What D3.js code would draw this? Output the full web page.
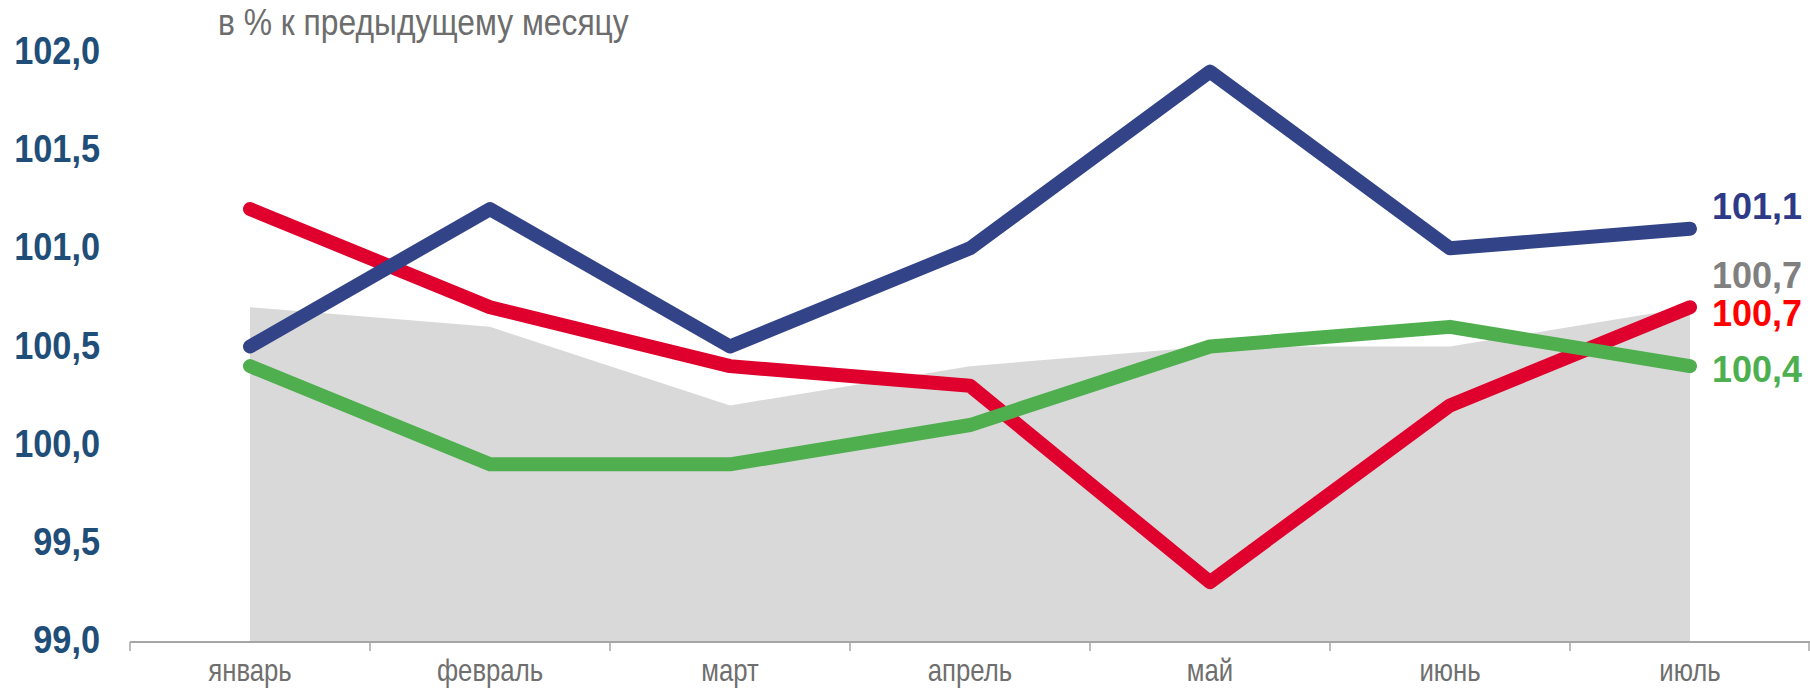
<!DOCTYPE html>
<html>
<head>
<meta charset="utf-8">
<script src="https://cdn.jsdelivr.net/npm/d3@7"></script>
<style>
  html, body { margin: 0; padding: 0; background: #ffffff; }
  svg { display: block; font-family: "Liberation Sans", Arial, sans-serif; }
</style>
</head>
<body>
<svg id="chart" width="1810" height="688"></svg>
<script>
// ---- data ----
const months = ["январь", "февраль", "март", "апрель", "май", "июнь", "июль"];
const areaValues  = [100.7, 100.6, 100.2, 100.4, 100.5, 100.5, 100.7];
const blueValues  = [100.5, 101.2, 100.5, 101.0, 101.9, 101.0, 101.1];
const redValues   = [101.2, 100.7, 100.4, 100.3, 99.3, 100.2, 100.7];
const greenValues = [100.4, 99.9, 99.9, 100.1, 100.5, 100.6, 100.4];
const yTicks = [99.0, 99.5, 100.0, 100.5, 101.0, 101.5, 102.0];
const title = "в % к предыдущему месяцу";

// ---- layout ----
const svg = d3.select("#chart");
const x = d3.scaleBand().domain(months).range([130, 1810]).padding(0);
const cx = m => x(m) + x.bandwidth() / 2;
const y = d3.scaleLinear().domain([99, 102]).range([641, 52]);
const fmt = v => d3.format(".1f")(v).replace(".", ",");

// gray area
const area = d3.area()
  .x((d, i) => cx(months[i]))
  .y0(y(99))
  .y1(d => y(d));
svg.append("path").datum(areaValues)
  .attr("d", area)
  .attr("fill", "#d9d9d9");

// x axis line and boundary ticks
const axisG = svg.append("g");
axisG.append("line")
  .attr("x1", x.range()[0]).attr("x2", x.range()[1])
  .attr("y1", y(99) + 1).attr("y2", y(99) + 1)
  .attr("stroke", "#a6a6a6").attr("stroke-width", 2);
const bounds = months.map(m => x(m)).concat([x.range()[1] - 1]);
axisG.selectAll("line.tick").data(bounds).enter().append("line")
  .attr("class", "tick")
  .attr("x1", d => d).attr("x2", d => d)
  .attr("y1", y(99) + 1).attr("y2", y(99) + 10)
  .attr("stroke", "#a6a6a6").attr("stroke-width", 1.5);

// x labels (condensed)
axisG.selectAll("text.xl").data(months).enter().append("text")
  .attr("class", "xl")
  .attr("transform", d => `translate(${cx(d)},681) scale(0.83,1)`)
  .attr("text-anchor", "middle")
  .attr("font-size", 31)
  .attr("fill", "#6f6f6f")
  .text(d => d);

// y labels
svg.selectAll("text.yl").data(yTicks).enter().append("text")
  .attr("class", "yl")
  .attr("transform", d => `translate(100,${y(d) + 12}) scale(0.88,1)`)
  .attr("text-anchor", "end")
  .attr("font-size", 39)
  .attr("font-weight", "bold")
  .attr("fill", "#1f4e79")
  .text(d => fmt(d));

// title
svg.append("text")
  .attr("transform", "translate(218,35) scale(0.86,1)")
  .attr("font-size", 37)
  .attr("fill", "#6d6d6d")
  .text(title);

// lines
const line = d3.line()
  .x((d, i) => cx(months[i]))
  .y(d => y(d));
const series = [
  { values: redValues,   color: "#e0002d" },
  { values: greenValues, color: "#4faf4f" },
  { values: blueValues,  color: "#334388" }
];
svg.selectAll("path.series").data(series).enter().append("path")
  .attr("class", "series")
  .attr("d", d => line(d.values))
  .attr("fill", "none")
  .attr("stroke", d => d.color)
  .attr("stroke-width", 14)
  .attr("stroke-linejoin", "round")
  .attr("stroke-linecap", "round");

// end labels
const last = months[months.length - 1];
const endLabels = [
  { values: blueValues,  color: "#2e3a87", dy: -10 },
  { values: areaValues,  color: "#808080", dy: -19 },
  { values: redValues,   color: "#ff0000", dy: 19 },
  { values: greenValues, color: "#4caf50", dy: 16 }
];
svg.selectAll("text.end").data(endLabels).enter().append("text")
  .attr("class", "end")
  .attr("x", cx(last) + 22)
  .attr("y", d => y(d.values[d.values.length - 1]) + d.dy)
  .attr("font-size", 36)
  .attr("font-weight", "bold")
  .attr("fill", d => d.color)
  .text(d => fmt(d.values[d.values.length - 1]));
</script>
</body>
</html>
